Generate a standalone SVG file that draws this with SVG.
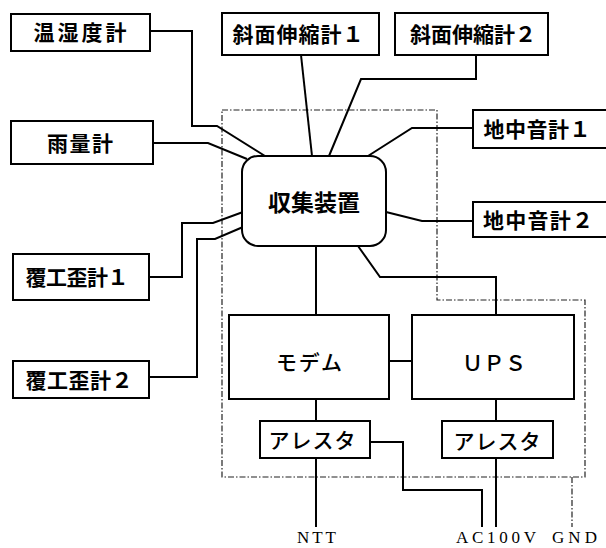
<svg xmlns="http://www.w3.org/2000/svg" width="606" height="548" viewBox="0 0 606 548">
<style>
.box{fill:#fff;stroke:#000;stroke-width:2}
.ln{fill:none;stroke:#000;stroke-width:2;stroke-linejoin:miter}
.dd{fill:none;stroke:#222;stroke-width:1.2;stroke-dasharray:6 2 1.5 2}
.t{font-family:"Noto Sans CJK JP","Noto Sans",sans-serif;font-size:21px;font-weight:700;text-anchor:middle}
.k{font-family:"Noto Sans CJK JP","Noto Sans",sans-serif;font-size:21px;font-weight:500;text-anchor:middle}
.s{font-family:"Liberation Serif",serif;font-size:17px;text-anchor:middle}
</style>
<rect width="606" height="548" fill="#fff"/>
<g id="boundary"><path class="dd" d="M222,110 H437 V300 H585 V477 H222 Z"/></g>
<g id="connectors">
<path class="ln" d="M150,31 H192 V126 H217 L265,156"/>
<path class="ln" d="M153,143 H208 L247,159"/>
<path class="ln" d="M149,277 H182 V223 H213 L243,212"/>
<path class="ln" d="M149,377 H197 V239 H215 L243,227"/>
<path class="ln" d="M301,55 L312,156"/>
<path class="ln" d="M476,55 V79 H361 L329,156"/>
<path class="ln" d="M368,156 L412,128 H473"/>
<path class="ln" d="M386,212 L422,221 H473"/>
<path class="ln" d="M316,246 V315"/>
<path class="ln" d="M358,246 L380,277 H496 V315"/>
<path class="ln" d="M389,361 H412"/>
<path class="ln" d="M316,399 V421"/>
<path class="ln" d="M316,458 V527"/>
<path class="ln" d="M370,442 H403 V490 H482 V527"/>
<path class="ln" d="M496,399 V421"/>
<path class="ln" d="M496,458 V527"/>
<path class="dd" d="M572,477 V527"/>
</g>
<g id="n-onshitsudo"><rect class="box" x="11" y="14" width="139" height="37"/><text class="t" x="80" y="40" textLength="93">温湿度計</text></g>
<g id="n-uryo"><rect class="box" x="11" y="121" width="142" height="43"/><text class="t" x="80" y="151" textLength="66">雨量計</text></g>
<g id="n-shamen1"><rect class="box" x="222" y="13" width="157" height="42"/><text class="t" x="298" y="42" textLength="131">斜面伸縮計１</text></g>
<g id="n-shamen2"><rect class="box" x="395" y="13" width="153" height="42"/><text class="t" x="473" y="42" textLength="126">斜面伸縮計２</text></g>
<g id="n-chichu1"><rect class="box" x="473" y="110" width="135" height="38"/><text class="t" x="537" y="137" textLength="107">地中音計１</text></g>
<g id="n-chichu2"><rect class="box" x="473" y="202" width="135" height="35"/><text class="t" x="538" y="228" textLength="110">地中音計２</text></g>
<g id="n-fukko1"><rect class="box" x="13" y="254" width="136" height="46"/><text class="t" x="77" y="285" textLength="103">覆工歪計１</text></g>
<g id="n-fukko2"><rect class="box" x="13" y="361" width="136" height="37"/><text class="t" x="79" y="388" textLength="107">覆工歪計２</text></g>
<g id="n-shushu"><rect class="box" x="242" y="156" width="144" height="90" rx="16"/><text class="t" x="314" y="211" textLength="92" style="font-size:23px">収集装置</text></g>
<g id="n-modem"><rect class="box" x="229" y="315" width="160" height="84"/><text class="k" x="309" y="370" textLength="66">モデム</text></g>
<g id="n-ups"><rect class="box" x="412" y="315" width="162" height="84"/><text class="k" x="494" y="371" textLength="64">ＵＰＳ</text></g>
<g id="n-arresta1"><rect class="box" x="260" y="421" width="110" height="37"/><text class="k" x="312" y="448" textLength="87">アレスタ</text></g>
<g id="n-arresta2"><rect class="box" x="442" y="421" width="111" height="37"/><text class="k" x="497" y="449" textLength="87">アレスタ</text></g>
<g id="labels">
<text class="s" x="316.5" y="543" textLength="39">NTT</text>
<text class="s" x="496" y="543" textLength="80">AC100V</text>
<text class="s" x="574.5" y="543" textLength="45">GND</text>
</g>
</svg>
